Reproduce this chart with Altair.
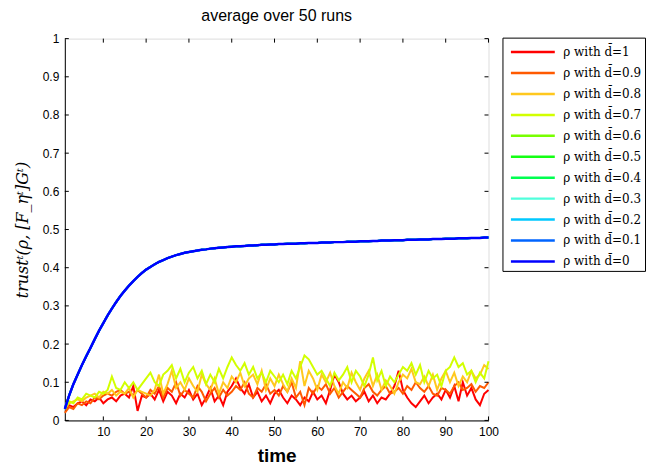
import altair as alt
import pandas as pd

time = list(range(1, 101))

labels = ["ρ with d\u0304=1", "ρ with d\u0304=0.9", "ρ with d\u0304=0.8", "ρ with d\u0304=0.7",
          "ρ with d\u0304=0.6", "ρ with d\u0304=0.5", "ρ with d\u0304=0.4", "ρ with d\u0304=0.3",
          "ρ with d\u0304=0.2", "ρ with d\u0304=0.1", "ρ with d\u0304=0"]
colors = ["#ff0000", "#ff5a00", "#ffc81e", "#d2ff00", "#78ff00", "#14ff14",
          "#00ff50", "#50ffdc", "#00c8ff", "#0064ff", "#0000ff"]

d_1 = [0.03, 0.04, 0.035, 0.045, 0.05, 0.04, 0.055, 0.05, 0.06, 0.045,
       0.055, 0.06, 0.05, 0.065, 0.07, 0.06, 0.09, 0.025, 0.065, 0.06,
       0.07, 0.055, 0.08, 0.05, 0.075, 0.065, 0.045, 0.07, 0.06, 0.08,
       0.055, 0.07, 0.04, 0.06, 0.085, 0.05, 0.065, 0.04, 0.075, 0.09,
       0.11, 0.085, 0.07, 0.095, 0.06, 0.075, 0.05, 0.065, 0.045, 0.07,
       0.08, 0.06, 0.045, 0.065, 0.055, 0.04, 0.06, 0.05, 0.075, 0.055,
       0.065, 0.045, 0.08, 0.12, 0.1, 0.07, 0.055, 0.065, 0.05, 0.06,
       0.075, 0.05, 0.065, 0.045, 0.06, 0.055, 0.07, 0.09, 0.13, 0.08,
       0.06, 0.045, 0.035, 0.05, 0.065, 0.045, 0.06, 0.07, 0.055, 0.08,
       0.06, 0.09, 0.05, 0.1, 0.065, 0.085, 0.055, 0.04, 0.07, 0.08]
d_09 = [0.02, 0.035, 0.03, 0.045, 0.04, 0.05, 0.045, 0.06, 0.055, 0.065,
        0.07, 0.065, 0.075, 0.08, 0.07, 0.075, 0.065, 0.08, 0.07, 0.06,
        0.08, 0.07, 0.09, 0.06, 0.085, 0.075, 0.1, 0.065, 0.08, 0.07,
        0.06, 0.09, 0.075, 0.05, 0.07, 0.085, 0.06, 0.08, 0.065, 0.075,
        0.09, 0.08, 0.1, 0.07, 0.06, 0.085, 0.075, 0.095, 0.07, 0.08,
        0.065, 0.09, 0.075, 0.1, 0.06, 0.075, 0.04, 0.085, 0.07, 0.09,
        0.08, 0.095, 0.07, 0.085, 0.06, 0.075, 0.09, 0.08, 0.07, 0.06,
        0.085, 0.095, 0.075, 0.065, 0.08, 0.09, 0.07, 0.075, 0.085, 0.07,
        0.09, 0.08, 0.1, 0.085, 0.075, 0.09, 0.07, 0.065, 0.085, 0.08,
        0.07, 0.09, 0.1, 0.08, 0.085, 0.095, 0.075, 0.09, 0.085, 0.1]
d_08 = [0.03, 0.045, 0.05, 0.055, 0.05, 0.06, 0.065, 0.07, 0.06, 0.075,
        0.07, 0.08, 0.065, 0.075, 0.07, 0.085, 0.06, 0.08, 0.075, 0.07,
        0.065, 0.08, 0.12, 0.07, 0.095, 0.13, 0.085, 0.1, 0.08, 0.11,
        0.09, 0.075, 0.12, 0.095, 0.08, 0.11, 0.07, 0.1, 0.085, 0.115,
        0.1, 0.125, 0.09, 0.11, 0.12, 0.095, 0.13, 0.08, 0.11, 0.09,
        0.12, 0.095, 0.075, 0.11, 0.085, 0.155, 0.09, 0.13, 0.11, 0.08,
        0.12, 0.1, 0.125, 0.09, 0.07, 0.1, 0.085, 0.125, 0.1, 0.08,
        0.11, 0.13, 0.09, 0.12, 0.08, 0.105, 0.09, 0.07, 0.1, 0.12,
        0.11, 0.135, 0.1, 0.095, 0.115, 0.09, 0.12, 0.08, 0.11, 0.13,
        0.1, 0.125, 0.09, 0.115, 0.1, 0.13, 0.11, 0.12, 0.145, 0.135]
d_07 = [0.03, 0.05, 0.045, 0.06, 0.055, 0.07, 0.065, 0.06, 0.075, 0.07,
        0.08, 0.115, 0.085, 0.08, 0.1, 0.085, 0.1, 0.08, 0.095, 0.11,
        0.125, 0.1, 0.09, 0.12, 0.13, 0.145, 0.11, 0.135, 0.1, 0.125,
        0.14, 0.11, 0.13, 0.095, 0.12, 0.1, 0.135, 0.11, 0.14, 0.165,
        0.145, 0.13, 0.15, 0.12, 0.14, 0.11, 0.125, 0.1, 0.13, 0.115,
        0.1, 0.12, 0.095, 0.13, 0.11, 0.14, 0.17, 0.16, 0.14, 0.12,
        0.13, 0.11, 0.09, 0.125, 0.105, 0.12, 0.14, 0.1, 0.13, 0.115,
        0.09, 0.12, 0.165, 0.105, 0.13, 0.09, 0.115, 0.1, 0.12, 0.14,
        0.13, 0.15, 0.12, 0.145, 0.1, 0.13, 0.11, 0.12, 0.09, 0.13,
        0.14, 0.165, 0.14, 0.15, 0.12, 0.13, 0.1, 0.125, 0.11, 0.155]
d_0 = [0.03, 0.065, 0.095, 0.12, 0.145, 0.168, 0.19, 0.213, 0.235, 0.255,
       0.275, 0.293, 0.31, 0.326, 0.34, 0.353, 0.365, 0.376, 0.386, 0.395,
       0.402, 0.409, 0.415, 0.42, 0.425, 0.429, 0.433, 0.436, 0.439, 0.441,
       0.443, 0.445, 0.447, 0.448, 0.45, 0.451, 0.452, 0.453, 0.454, 0.455,
       0.456, 0.456, 0.457, 0.458, 0.458, 0.459, 0.46, 0.46, 0.461, 0.461,
       0.462, 0.462, 0.463, 0.463, 0.463, 0.464, 0.464, 0.465, 0.465, 0.465,
       0.466, 0.466, 0.466, 0.467, 0.467, 0.467, 0.468, 0.468, 0.468, 0.469,
       0.469, 0.469, 0.47, 0.47, 0.471, 0.471, 0.471, 0.472, 0.472, 0.472,
       0.473, 0.473, 0.473, 0.474, 0.474, 0.474, 0.475, 0.475, 0.475, 0.476,
       0.476, 0.476, 0.477, 0.477, 0.477, 0.478, 0.478, 0.478, 0.479, 0.479]
# series 0.6 .. 0.1 lie underneath the d=0 curve
hidden = d_0

series_values = [d_1, d_09, d_08, d_07, hidden, hidden, hidden, hidden, hidden, hidden, d_0]

x_ticks = [10, 20, 30, 40, 50, 60, 70, 80, 90, 100]
y_ticks = [0, 0.1, 0.2, 0.3, 0.4, 0.5, 0.6, 0.7, 0.8, 0.9, 1]

W, H = 425, 383
xscale = alt.Scale(domain=[1, 100], nice=False, zero=False)
yscale = alt.Scale(domain=[0, 1], nice=False)
cscale = alt.Scale(domain=labels, range=colors)

xaxis = alt.Axis(values=x_ticks, format="d", ticks=False, grid=False, labelFlush=False,
                 labelFont="Liberation Sans", labelFontSize=12, labelColor="black",
                 labelPadding=6, domainColor="black",
                 titleFont="Liberation Sans", titleFontSize=19, titleFontWeight="bold",
                 titleColor="black", titlePadding=9)
yaxis = alt.Axis(values=y_ticks, format="~g", ticks=False, grid=False, labelFlush=False,
                 labelFont="Liberation Sans", labelFontSize=12, labelColor="black",
                 labelPadding=6, domainColor="black",
                 titleFont="DejaVu Serif", titleFontSize=16, titleFontStyle="italic",
                 titleFontWeight="normal", titleColor="black", titlePadding=12)
XT = "time"
YT = "trustᵗ(ρ, [F_ηᵗ]Gᵗ)"

legend = alt.Legend(title=None, orient="none", legendX=439, legendY=-1,
                    strokeColor="black", fillColor="white", padding=3,
                    symbolType="M-2.2,0H2.2", symbolStrokeWidth=2.5, symbolSize=400,
                    symbolOffset=16, labelOffset=19,
                    labelFont="DejaVu Serif", labelFontSize=12,
                    labelColor="black", rowPadding=3, labelLimit=200)

layers = []
for i, (lab, vals) in enumerate(zip(labels, series_values)):
    df = pd.DataFrame({"time": time, "value": vals, "series": lab})
    sw = 2.5 if i == len(labels) - 1 else 2
    layers.append(alt.Chart(df).mark_line(strokeWidth=sw).encode(
        x=alt.X("time:Q", scale=xscale, axis=xaxis, title=XT),
        y=alt.Y("value:Q", scale=yscale, axis=yaxis, title=YT),
        color=alt.Color("series:N", scale=cscale, legend=legend)))

xt = pd.DataFrame({"time": x_ticks})
yt = pd.DataFrame({"value": y_ticks})
tick_x_bottom = alt.Chart(xt).mark_rule(color="black").encode(
    x=alt.X("time:Q", scale=xscale, axis=xaxis, title=XT), y=alt.value(H), y2=alt.value(H - 4))
tick_x_top = alt.Chart(xt).mark_rule(color="black").encode(
    x=alt.X("time:Q", scale=xscale, axis=xaxis, title=XT), y=alt.value(0), y2=alt.value(4))
tick_y_left = alt.Chart(yt).mark_rule(color="black").encode(
    y=alt.Y("value:Q", scale=yscale, axis=yaxis, title=YT), x=alt.value(0), x2=alt.value(4))
tick_y_right = alt.Chart(yt).mark_rule(color="black").encode(
    y=alt.Y("value:Q", scale=yscale, axis=yaxis, title=YT), x=alt.value(W), x2=alt.value(W - 4))

chart = alt.layer(*layers, tick_x_bottom, tick_x_top, tick_y_left, tick_y_right).properties(
    width=W, height=H,
    title=alt.TitleParams("average over 50 runs", font="Liberation Sans", fontSize=16,
                          fontWeight="normal", color="black", anchor="middle", offset=9),
    autosize=alt.AutoSizeParams(type="none"),
    padding={"left": 57, "top": 30, "right": 160, "bottom": 48},
).configure_view(stroke="black", strokeWidth=1).configure(background="white")

chart.save("out.html", embed_options={"renderer": "svg", "actions": False})
